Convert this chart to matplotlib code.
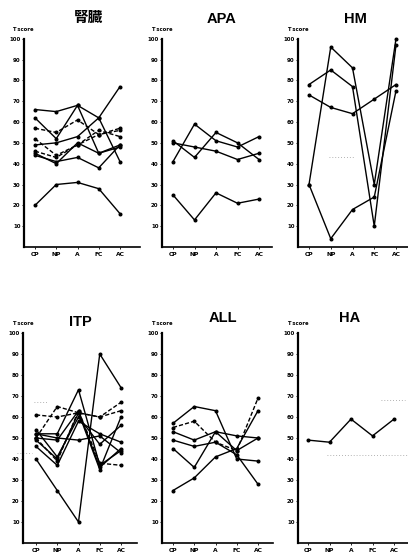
import matplotlib
matplotlib.use("Agg")
import matplotlib.pyplot as plt

plt.rcParams['font.family'] = ['Noto Sans CJK JP', 'DejaVu Sans']

categories = ["CP", "NP", "A", "FC", "AC"]
yticks = [10, 20, 30, 40, 50, 60, 70, 80, 90, 100]
titles = ["腎臓", "APA", "HM", "ITP", "ALL", "HA"]

kidney = [
    [66, 65, 68, 62, 41],
    [62, 52, 68, 45, 49],
    [57, 55, 61, 54, 56],
    [49, 50, 53, 62, 77],
    [52, 44, 49, 56, 53],
    [46, 43, 49, 54, 57],
    [44, 41, 43, 38, 49],
    [45, 40, 50, 45, 48],
    [20, 30, 31, 28, 16],
]
kidney_styles = ["-", "-", "--", "-", "--", "--", "-", "-", "-"]

apa = [
    [50, 48, 46, 42, 45],
    [51, 43, 55, 50, 42],
    [41, 59, 51, 48, 53],
    [25, 13, 26, 21, 23],
]
apa_styles = ["-", "-", "-", "-"]

hm = [
    [30, 96, 86, 30, 100],
    [78, 85, 77, 10, 97],
    [73, 67, 64, 71, 78],
    [30, 4, 18, 24, 75],
]
hm_styles = ["-", "-", "-", "-"]

itp = [
    [40, 25, 10, 90, 74],
    [61, 60, 62, 60, 67],
    [50, 65, 62, 60, 63],
    [52, 52, 73, 37, 44],
    [50, 49, 63, 36, 45],
    [54, 41, 60, 47, 56],
    [46, 37, 58, 52, 48],
    [50, 39, 63, 38, 37],
    [52, 50, 49, 51, 43],
    [49, 40, 62, 35, 60],
]
itp_styles = ["-", "--", "--", "-", "-", "-", "-", "--", "-", "-"]

all_ = [
    [57, 65, 63, 40, 39],
    [55, 58, 48, 44, 69],
    [53, 49, 53, 51, 50],
    [49, 46, 48, 42, 28],
    [45, 36, 53, 44, 50],
    [25, 31, 41, 45, 63],
]
all_styles = ["-", "--", "-", "-", "-", "-"]

ha = [
    [49, 48, 59, 51, 59],
]
ha_styles = ["-"]

# faint dotted scan marks (x-range in category index, y value)
faint = {
    2: [((0.9, 2.1), 43)],
    3: [((-0.1, 0.5), 67), ((-0.9, -0.2), 43)],
    5: [((3.4, 4.5), 68), ((0.9, 4.6), 42)],
}

panels = [(kidney, kidney_styles), (apa, apa_styles), (hm, hm_styles),
          (itp, itp_styles), (all_, all_styles), (ha, ha_styles)]

W, H = 408, 553
fig = plt.figure(figsize=(W / 100, H / 100), dpi=100)

# pixel layout: (left_px, cp_px, spacing_px, right_px, top100_px, bottom0_px)
layout = [
    (24, 35, 21.25, 140, 38.7, 247),
    (162, 173, 21.5, 272, 38.7, 247),
    (298, 309, 21.75, 408, 38.7, 247),
    (23, 36, 21.25, 137, 333, 543),
    (162, 173, 21.25, 273, 333, 543),
    (298, 308, 21.5, 408, 333, 543),
]
title_pos = [(88, 18), (222, 19), (355, 19), (80, 322), (223, 318), (350, 318)]

for i, ((series, styles), (lp, cp, sp, rp, t100, b0)) in enumerate(zip(panels, layout)):
    left = lp / W
    width = (rp - lp) / W
    bottom = (H - b0) / H
    height = (b0 - t100) / H
    ax = fig.add_axes([left, bottom, width, height])
    x0 = (lp - cp) / sp
    x1 = (rp - cp) / sp
    ax.set_xlim(x0, x1)
    ax.set_ylim(0, 100)
    xs = list(range(len(categories)))
    for s, ls in zip(series, styles):
        ax.plot(xs, s, color="black", lw=1.0, ls=ls, marker="o", ms=1.9,
                mfc="black", mec="black", dashes=(3, 1.5) if ls == "--" else (None, None),
                solid_joinstyle="miter", clip_on=False)
    for (xa, xb), yv in faint.get(i, []):
        ax.plot([xa, xb], [yv, yv], color="#999999", lw=0.6, ls=(0, (1, 2.5)), clip_on=False)
    for sname in ["top", "right"]:
        ax.spines[sname].set_visible(False)
    ax.spines["left"].set_linewidth(1.6)
    ax.spines["bottom"].set_linewidth(1.2)
    ax.set_xticks(xs)
    ax.set_xticklabels(categories, fontsize=4.3, fontweight="bold", family="DejaVu Sans")
    ax.set_yticks(yticks)
    ax.set_yticklabels([str(v) for v in yticks], fontsize=4.0, fontweight="bold", family="DejaVu Sans")
    ax.tick_params(axis="y", length=1.5, width=0.6, pad=1, direction="out")
    ax.tick_params(axis="x", length=1.5, width=0.6, pad=2, direction="out")
    ax.text(-0.1, 1.045, "T score", transform=ax.transAxes, fontsize=3.8,
            fontweight="bold", family="DejaVu Sans", ha="left", va="center")
    tx, ty = title_pos[i]
    fig.text(tx / W, 1 - ty / H, titles[i], fontsize=10.5, fontweight="bold",
             family=["Liberation Sans", "Noto Sans CJK JP"],
             ha="center", va="center")

fig.savefig("out.png", dpi=100)
